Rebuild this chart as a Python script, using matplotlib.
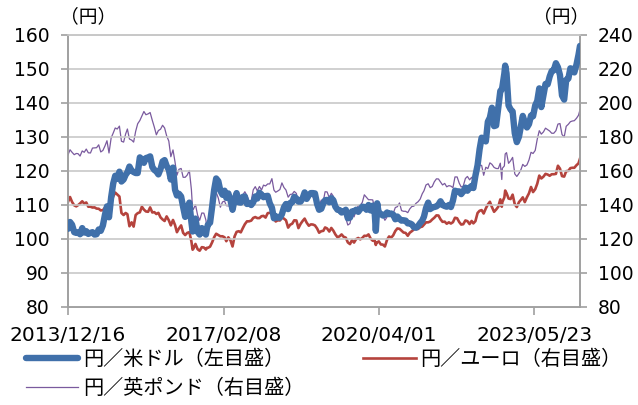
import matplotlib
matplotlib.use("Agg")
import matplotlib.pyplot as plt
import pandas as pd

# ---- data (yen) : month-end readings ----
start_date = "2013-12-16"
month_end_first = "2013-12-31"
month_end_last = "2024-03-31"
last_date = "2024-04-26"

usd_jpy = [103.0, 105.0,
    102.0, 102.0, 103.2, 102.3, 101.8, 101.3, 102.8, 104.0, 109.6, 112.3, 118.6, 119.8,
    117.5, 119.6, 120.1, 119.4, 124.0, 122.4, 124.0, 121.2, 119.9, 120.6, 123.2, 120.4,
    121.0, 112.8, 112.5, 106.5, 110.7, 102.8, 102.1, 103.2, 101.3, 104.8, 114.4, 117.0,
    113.0, 112.1, 111.4, 111.5, 110.8, 112.4, 110.3, 110.0, 112.5, 113.6, 112.3, 112.7,
    109.2, 106.7, 106.3, 109.3, 108.8, 110.8, 111.9, 111.0, 113.7, 112.9, 113.5, 110.3,
    108.9, 111.4, 110.8, 111.4, 108.6, 107.8, 108.6, 106.3, 108.1, 108.0, 109.5, 108.6,
    108.4, 108.1, 107.5, 106.9, 107.8, 107.5, 105.8, 105.9, 105.5, 104.6, 104.3, 103.3,
    104.7, 106.6, 110.7, 109.3, 109.6, 111.1, 109.7, 110.0, 111.3, 114.0, 113.2, 115.1,
    115.1, 115.0, 121.7, 129.8, 128.7, 135.7, 133.2, 138.7, 144.7, 148.7, 138.1, 131.1,
    130.1, 136.2, 132.8, 136.3, 139.3, 144.3, 142.3, 145.5, 149.4, 151.7, 148.2, 141.0,
    147.2, 150.0, 151.3, 156.8]

eur_jpy = [141.8, 144.7,
    139.8, 139.9, 142.2, 141.5, 139.0, 138.6, 137.8, 137.0, 138.9, 141.0, 147.3, 145.0,
    134.1, 134.6, 129.8, 134.1, 135.7, 137.3, 136.0, 135.6, 134.7, 132.7, 130.6, 131.0,
    131.2, 124.0, 128.0, 122.3, 124.0, 114.3, 114.0, 115.2, 113.8, 115.5, 121.0, 122.3,
    121.6, 118.7, 119.2, 121.5, 124.6, 126.4, 130.4, 130.8, 132.9, 132.3, 133.6, 135.2,
    135.7, 130.3, 130.9, 132.0, 126.7, 129.0, 130.9, 128.9, 132.0, 127.8, 128.5, 126.2,
    124.6, 126.8, 124.4, 124.9, 121.0, 122.7, 120.8, 117.0, 117.9, 120.6, 120.6, 121.8,
    120.2, 119.2, 118.6, 116.7, 119.5, 120.8, 124.7, 126.0, 123.8, 121.9, 124.6, 126.2,
    127.0, 128.5, 129.8, 131.5, 133.9, 131.6, 130.2, 129.8, 129.9, 132.2, 128.5, 130.9,
    128.8, 129.2, 135.3, 137.0, 138.0, 141.9, 136.0, 139.0, 141.7, 147.0, 143.5, 140.4,
    141.7, 144.5, 144.6, 150.6, 149.3, 157.3, 156.7, 157.9, 158.1, 158.3, 161.4, 156.7,
    160.1, 161.9, 163.4, 167.3]

gbp_jpy = [169.5, 172.5,
    169.6, 170.2, 171.8, 172.9, 170.6, 173.6, 175.4, 172.1, 177.8, 179.5, 185.3, 186.4,
    177.0, 184.7, 178.2, 183.3, 189.7, 195.0, 193.6, 189.8, 181.3, 184.6, 185.3, 177.6,
    172.4, 157.5, 161.5, 156.3, 160.3, 137.5, 134.0, 135.3, 131.2, 128.0, 142.6, 144.0,
    141.8, 139.6, 139.4, 144.2, 142.5, 145.9, 145.4, 142.3, 150.8, 150.9, 151.7, 152.4,
    155.5, 147.5, 149.1, 150.3, 144.6, 146.4, 146.8, 143.7, 148.3, 144.3, 144.7, 140.0,
    142.9, 147.8, 144.3, 145.1, 136.7, 136.9, 132.2, 129.1, 133.0, 139.7, 141.5, 144.5,
    143.1, 138.3, 133.4, 133.8, 132.9, 133.0, 138.5, 141.2, 136.3, 135.5, 139.1, 141.0,
    143.5, 148.4, 152.5, 150.9, 155.4, 153.5, 152.7, 151.4, 150.2, 156.5, 150.6, 155.6,
    154.8, 154.2, 159.9, 163.3, 162.2, 164.8, 162.1, 161.4, 161.6, 170.8, 166.0, 158.3,
    158.6, 163.9, 163.6, 171.0, 172.1, 183.7, 183.0, 184.3, 182.2, 183.7, 187.9, 179.9,
    187.5, 189.4, 191.0, 196.0]

# ---- mid-month readings (15th), 2014-01 .. 2024-04 ----
mid_first = "2014-01-01"
mid_last = "2024-04-01"

usd_mid = [
    104.2, 101.8, 101.4, 101.9, 101.5, 102.0, 101.4, 102.4, 107.1, 106.4, 116.3, 117.7,
    116.9, 118.9, 121.3, 119.7, 119.4, 123.4, 123.8, 124.3, 120.3, 119.0, 122.8, 121.5,
    117.5, 114.5, 113.3, 109.4, 108.9, 105.0, 106.0, 101.3, 102.2, 104.2, 109.4, 117.8,
    114.2, 114.2, 113.4, 108.6, 113.5, 110.7, 112.5, 110.6, 110.8, 111.9, 113.1, 112.6,
    110.5, 106.1, 106.3, 107.3, 110.3, 110.6, 112.4, 111.0, 112.0, 111.8, 113.5, 113.4,
    108.6, 110.5, 111.5, 112.0, 109.5, 108.5, 108.0, 106.1, 108.1, 108.6, 108.8, 109.4,
    110.0, 109.8, 106.5, 107.4, 107.1, 107.3, 107.2, 106.6, 105.4, 105.4, 104.6, 103.5,
    103.8, 105.4, 109.1, 108.8, 109.4, 110.1, 110.0, 109.5, 109.4, 114.2, 114.0, 114.0,
    114.2, 115.6, 118.6, 126.4, 129.2, 134.5, 138.6, 133.4, 143.5, 148.7, 139.3, 137.5,
    128.5, 133.4, 134.3, 133.8, 136.1, 140.6, 138.8, 145.6, 147.8, 149.6, 150.5, 142.2,
    146.8, 150.2, 149.0, 154.2]

eur_mid = [
    141.8, 139.2, 140.9, 140.8, 139.0, 138.5, 137.9, 136.8, 138.4, 135.2, 145.0, 146.2,
    135.3, 135.3, 127.5, 127.3, 135.2, 139.0, 136.2, 138.6, 135.8, 135.4, 131.5, 133.3,
    128.0, 128.2, 126.2, 123.6, 123.6, 118.6, 117.1, 113.1, 115.0, 114.8, 118.0, 123.1,
    121.6, 121.0, 121.0, 115.6, 124.2, 123.9, 128.7, 130.4, 132.4, 132.3, 133.4, 132.6,
    135.4, 132.3, 131.0, 132.6, 131.0, 128.4, 131.0, 126.4, 130.6, 129.6, 128.6, 128.0,
    123.7, 124.8, 126.2, 126.5, 122.7, 121.6, 121.3, 118.0, 119.3, 119.9, 119.8, 121.9,
    122.7, 119.0, 118.0, 116.8, 115.6, 121.5, 122.1, 126.2, 124.9, 123.6, 123.7, 125.6,
    125.9, 127.3, 129.8, 130.3, 132.5, 133.8, 130.1, 129.0, 129.1, 132.5, 130.0, 128.7,
    130.5, 130.6, 130.5, 136.6, 135.0, 140.3, 138.8, 137.3, 143.3, 144.5, 143.8, 146.1,
    138.8, 143.1, 141.7, 146.9, 147.6, 152.5, 155.6, 158.3, 157.2, 158.1, 163.1, 157.0,
    159.9, 161.7, 161.9, 164.5]

gbp_mid = [
    171.0, 170.3, 168.8, 171.0, 170.7, 173.5, 173.7, 171.2, 174.7, 170.6, 182.3, 184.7,
    177.5, 181.8, 178.8, 177.0, 187.8, 192.3, 193.1, 194.4, 185.8, 183.8, 186.9, 180.7,
    168.4, 165.3, 161.0, 156.3, 157.6, 149.0, 140.2, 131.0, 135.2, 125.8, 136.4, 147.5,
    138.7, 142.3, 139.5, 135.7, 146.8, 141.2, 147.8, 142.2, 148.9, 148.3, 148.8, 151.2,
    152.4, 148.8, 148.2, 153.0, 148.8, 146.2, 148.0, 140.7, 146.4, 147.2, 146.1, 142.7,
    139.7, 142.3, 147.7, 146.9, 140.5, 136.0, 135.4, 128.2, 135.2, 136.7, 139.9, 146.0,
    143.1, 143.0, 131.0, 135.0, 131.0, 134.7, 135.0, 139.0, 136.7, 136.3, 137.7, 139.3,
    141.9, 146.6, 151.8, 150.2, 153.6, 155.3, 151.8, 150.7, 151.1, 156.5, 152.9, 151.1,
    156.8, 156.3, 154.6, 163.4, 157.5, 161.4, 163.9, 161.5, 164.6, 163.0, 164.5, 168.0,
    156.8, 160.9, 162.7, 166.5, 170.3, 178.7, 181.7, 185.2, 183.5, 182.2, 187.6, 181.5,
    186.3, 189.0, 189.6, 192.8]

# notable intra-month moves
extra_dates = ["2016-06-24", "2016-10-07", "2020-03-09", "2020-03-19", "2022-09-26", "2022-10-21"]
extra_usd = [102.2, 103.0, 102.4, 110.5, 144.0, 151.0]
extra_eur = [113.7, 114.8, 116.5, 118.0, 139.0, 148.5]
extra_gbp = [137.4, 127.0, 131.0, 128.0, 155.0, 170.0]

tick_dates = ["2013-12-16", "2017-02-08", "2020-04-01", "2023-05-23"]
tick_labels = ["2013/12/16", "2017/02/08", "2020/04/01", "2023/05/23"]
left_ticks = [80, 90, 100, 110, 120, 130, 140, 150, 160]
right_ticks = [80, 100, 120, 140, 160, 180, 200, 220, 240]

labels = ["円／米ドル（左目盛）", "円／ユーロ（右目盛）", "円／英ポンド（右目盛）"]
colors = ["#4070AA", "#B5433D", "#7A5A9E"]

# ---- assemble ----
dates = ([pd.Timestamp(start_date)]
         + list(pd.date_range(month_end_first, month_end_last, freq="ME"))
         + [pd.Timestamp(last_date)])
df = pd.DataFrame({"usd": usd_jpy, "eur": eur_jpy, "gbp": gbp_jpy}, index=dates)
mid_idx = pd.date_range(mid_first, mid_last, freq="MS") + pd.Timedelta(days=14)
mid = pd.DataFrame({"usd": usd_mid, "eur": eur_mid, "gbp": gbp_mid}, index=mid_idx)
ex = pd.DataFrame({"usd": extra_usd, "eur": extra_eur, "gbp": extra_gbp},
                  index=pd.to_datetime(extra_dates))
df = pd.concat([df, mid, ex]).sort_index()

jp = ["Noto Sans CJK JP", "DejaVu Sans"]
num = ["DejaVu Sans"]

fig = plt.figure(figsize=(6.38, 4.05), dpi=100)
ax = fig.add_axes([68/638, 1-307/405, (580-68)/638, (307-35)/405])
ax2 = ax.twinx()

l_red, = ax2.plot(df.index, df["eur"], color=colors[1], lw=1.9, zorder=2)
l_pur, = ax2.plot(df.index, df["gbp"], color=colors[2], lw=0.9, zorder=3)
l_blue, = ax.plot(df.index, df["usd"], color=colors[0], lw=4.6, solid_capstyle="round",
                  solid_joinstyle="round", zorder=3)
ax.set_zorder(ax2.get_zorder() + 1)
ax.patch.set_visible(False)

ax.set_ylim(80, 160)
ax2.set_ylim(80, 240)
ax.set_yticks(left_ticks)
ax2.set_yticks(right_ticks)
ax.set_xlim(pd.Timestamp(start_date), pd.Timestamp(last_date))
ax.set_xticks(pd.to_datetime(tick_dates))
ax.set_xticklabels(tick_labels)

ax2.yaxis.grid(False)
ax.yaxis.grid(True, color="#C8C8C8", lw=1.2)
ax.set_axisbelow(True)

for a in (ax, ax2):
    for s in a.spines.values():
        s.set_color("#A0A0A0")
        s.set_linewidth(1.2)
    a.spines["top"].set_color("#C8C8C8")
    a.tick_params(axis="y", color="#A0A0A0", length=5, width=1.2, direction="out",
                  labelsize=13.5, pad=8)
for t in ax.get_yticklabels() + ax2.get_yticklabels():
    t.set_fontfamily(num)
ax.tick_params(axis="x", color="#A0A0A0", length=6, width=1.2, direction="out",
               labelsize=14.5, pad=8)
for t in ax.get_xticklabels():
    t.set_fontfamily(num)

fig.text(60/638, 1-17/405, "（円）", fontsize=13.5, family=jp, va="center", ha="left")
fig.text(589/638, 1-17/405, "（円）", fontsize=13.5, family=jp, va="center", ha="right")

leg = fig.legend([l_blue, l_pur, l_red], [labels[0], labels[2], labels[1]], ncol=2,
                 loc="upper left", bbox_to_anchor=(26/638, 1-349/405), frameon=False,
                 prop={"family": jp, "size": 14.5}, handlelength=2.6, handletextpad=0.25,
                 columnspacing=2.9, labelspacing=0.42, borderaxespad=0, borderpad=0)

fig.savefig("out.png", dpi=100)
